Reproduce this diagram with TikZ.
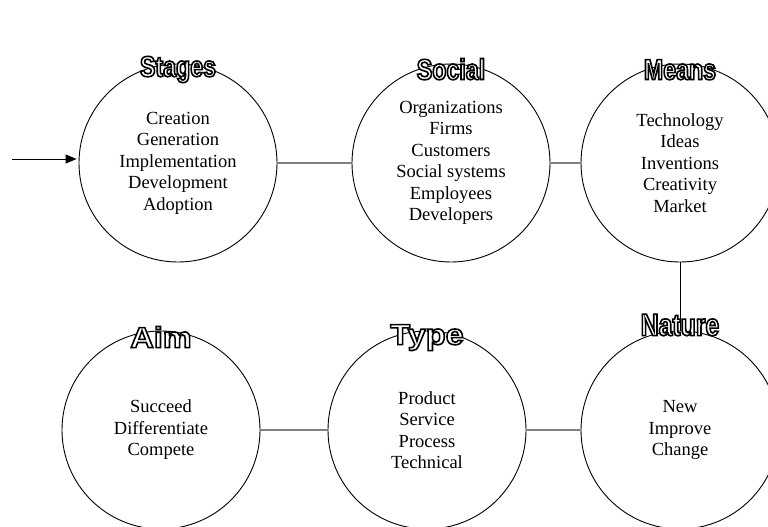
\documentclass[tikz,border=0pt]{standalone}
\usepackage{fontspec}
\setmainfont{Liberation Serif}
\newfontfamily\headfont[FakeStretch=0.8]{Liberation Sans}
\newfontfamily\wideheadfont[FakeStretch=1.12]{Liberation Sans}
\usetikzlibrary{arrows.meta, positioning}

% white letters with a dark rim for the circle headings (fill + stroke render mode)
\newcommand{\rimmed}[1]{{\color{white}\special{pdf:literal direct 2 Tr 1.6 w 0 G}#1\special{pdf:literal direct 0 Tr}}}

\tikzset{
    facet/.style={draw, circle, line width=0.9pt, minimum size=198pt, inner sep=0pt,
        align=center, font=\fontsize{18.5}{21.5}\selectfont},
    heading/.style={anchor=base, inner sep=0pt, font=\headfont\bfseries\fontsize{29}{29}\selectfont},
    wideheading/.style={heading, font=\wideheadfont\bfseries\fontsize{29}{29}\selectfont},
    link/.style={draw=black!50, line width=1.7pt},
    drop/.style={draw=black, line width=1pt}
}

\begin{document}
\begin{tikzpicture}[x=1pt, y=-1pt]
\useasboundingbox (0,0) rectangle (768,527);

% upper row
\node[facet] (stages) at (178,163) {Creation\\Generation\\Implementation\\Development\\Adoption};
\node[facet] (social) at (451,163) {Organizations\\Firms\\Customers\\Social systems\\Employees\\Developers};
\node[facet] (means)  at (680,163) {Technology\\Ideas\\Inventions\\Creativity\\Market};

% lower row
\node[facet] (aim)    at (161,430) {Succeed\\Differentiate\\Compete};
\node[facet] (type)   at (427,430) {Product\\Service\\Process\\Technical};
\node[facet] (nature) at (680,430) {New\\Improve\\Change};

\draw[link] (stages) -- (social);
\draw[link] (social) -- (means);
\draw[drop] (means) -- (nature);
\draw[link] (aim) -- (type);
\draw[link] (type) -- (nature);

% entry arrow
\coordinate (entry) at (12,159);
\draw[line width=1pt, -{Triangle[length=11pt,width=9pt]}, shorten >=2pt] (entry) -- (entry -| stages.west);

% headings
\node[heading, yshift=-13pt] at (stages.north) {\rimmed{Stages}};
\node[heading, yshift=-16pt] at (social.north) {\rimmed{Social}};
\node[heading, yshift=-16pt] at (means.north)  {\rimmed{Means}};
\node[wideheading, yshift=-17pt] at (aim.north)  {\rimmed{Aim}};
\node[wideheading, yshift=-14pt] at (type.north) {\rimmed{Type}};
\node[heading, yshift=-5pt, font=\headfont\bfseries\fontsize{31}{31}\selectfont] at (nature.north) {\rimmed{Nature}};
\end{tikzpicture}
\end{document}
